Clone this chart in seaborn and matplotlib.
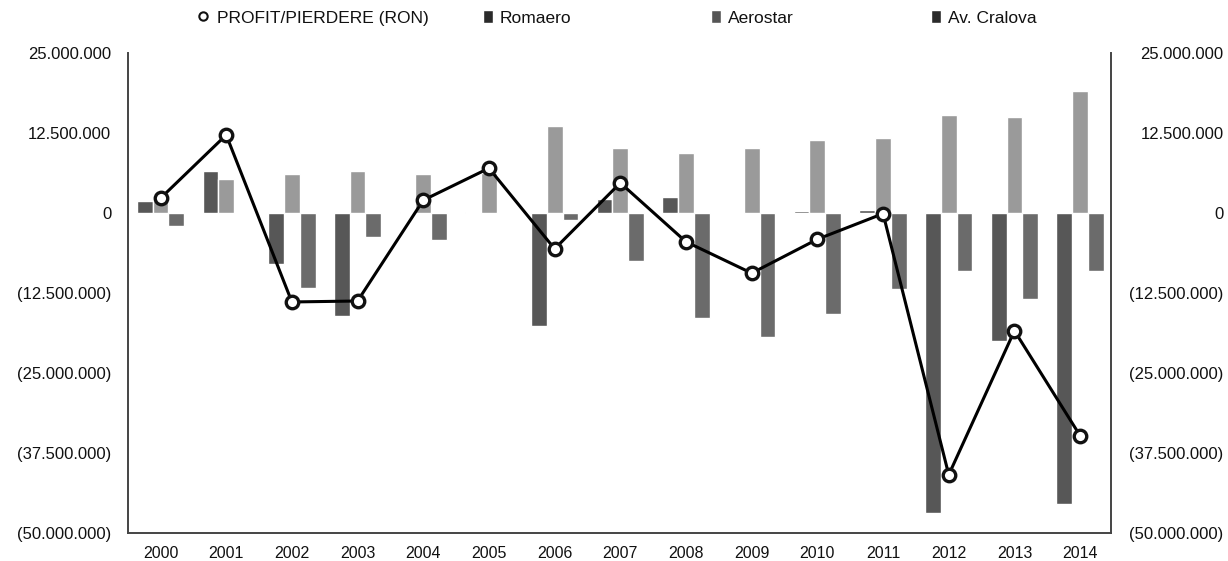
import matplotlib
matplotlib.use("Agg")
import matplotlib.pyplot as plt
import seaborn as sns
import pandas as pd
from matplotlib.lines import Line2D
from matplotlib.patches import Patch
from matplotlib.ticker import FuncFormatter, FixedLocator

# ---- data (RON) ----
years = [str(y) for y in range(2000, 2015)]
companies = ["Romaero", "Aerostar", "Av. Cralova"]
romaero = [1.9e6, 6.5e6, -8.0e6, -16.1e6, 0.15e6, 0.15e6, -17.7e6, 2.2e6, 2.5e6, 0.0, 0.3e6, 0.5e6,
           -46.9e6, -20.0e6, -45.5e6]
aerostar = [2.5e6, 5.3e6, 6.1e6, 6.5e6, 6.1e6, 6.3e6, 13.6e6, 10.2e6, 9.4e6, 10.2e6, 11.4e6, 11.7e6,
            15.3e6, 15.0e6, 19.1e6]
craiova = [-2.0e6, 0.0, -11.7e6, -3.75e6, -4.2e6, 0.0, -1.1e6, -7.5e6, -16.4e6, -19.4e6, -15.8e6,
           -11.9e6, -9.1e6, -13.4e6, -9.1e6]
profit = [2.3e6, 12.2e6, -13.9e6, -13.75e6, 2.0e6, 7.0e6, -5.6e6, 4.7e6, -4.5e6, -9.4e6, -4.1e6,
          -0.1e6, -40.9e6, -18.4e6, -34.8e6]
profit_label = "PROFIT/PIERDERE (RON)"
y_ticks = [25e6, 12.5e6, 0, -12.5e6, -25e6, -37.5e6, -50e6]

df = pd.DataFrame({
    "An": years * 3,
    "Companie": [companies[0]] * 15 + [companies[1]] * 15 + [companies[2]] * 15,
    "Valoare": romaero + aerostar + craiova,
})

sns.set_theme(style="white")
plt.rcParams["font.family"] = ["Liberation Sans", "DejaVu Sans"]

W, H = 1228, 561
fig = plt.figure(figsize=(W / 100, H / 100), dpi=100)
L, R, T, B = 128, 1111, 53, 533
ax = fig.add_axes([L / W, 1 - B / H, (R - L) / W, (B - T) / H])

palette = {"Romaero": "#575757", "Aerostar": "#9a9a9a", "Av. Cralova": "#6b6b6b"}
sns.barplot(data=df, x="An", y="Valoare", hue="Companie", order=years, hue_order=companies,
            palette=palette, width=0.72, saturation=1, legend=False, ax=ax, zorder=2)

sns.pointplot(x=years, y=profit, order=years, color="black", markers="o", errorbar=None,
              ax=ax, linewidth=2.2, markersize=9, markerfacecolor="white",
              markeredgecolor="#111111", markeredgewidth=2.4, zorder=5)
for ln in ax.lines:
    ln.set_markerfacecolor("white")
    ln.set_markeredgecolor("#111111")
    ln.set_zorder(5)

ax.set_ylim(-50e6, 25e6)
ax.set_xlim(-0.495, 14.47)
ax.set_xlabel("")
ax.set_ylabel("")


def fmt(v, pos=None):
    if abs(v) < 1:
        return "0"
    s = f"{abs(v):,.0f}".replace(",", ".")
    return s if v > 0 else f"({s})"


ax.yaxis.set_major_locator(FixedLocator(y_ticks))
ax.yaxis.set_major_formatter(FuncFormatter(fmt))
ax.tick_params(axis="y", length=0, pad=12, labelsize=12, colors="#111111")
ax.tick_params(axis="x", length=0, pad=9, labelsize=11.5, colors="#111111")

ax2 = ax.twinx()
ax2.set_ylim(ax.get_ylim())
ax2.yaxis.set_major_locator(FixedLocator(y_ticks))
ax2.yaxis.set_major_formatter(FuncFormatter(fmt))
ax2.tick_params(axis="y", length=0, pad=81, labelsize=12, colors="#111111")
for t in ax2.get_yticklabels():
    t.set_horizontalalignment("right")

for a in (ax, ax2):
    a.spines["top"].set_visible(False)
    for s in ("left", "right", "bottom"):
        a.spines[s].set_color("#444444")
        a.spines[s].set_linewidth(1.4)
ax2.spines["left"].set_visible(False)
ax2.spines["bottom"].set_visible(False)
ax.spines["right"].set_visible(False)

# ---- legend (top, spread) ----
fs = 12.5
fs_px = fs * 100 / 72
yl = 1 - 18 / H
entries = [
    (Line2D([], [], marker="o", linestyle="none", markerfacecolor="white", markeredgecolor="#111111",
            markeredgewidth=1.5, markersize=6), profit_label, 217, 0.8, 0.4),
    (Patch(facecolor="#2a2a2a"), "Romaero", 500, 0.6, 0.4),
    (Patch(facecolor="#555555"), "Aerostar", 728, 0.6, 0.4),
    (Patch(facecolor="#2a2a2a"), "Av. Cralova", 948, 0.6, 0.4),
]
for h, lab, tx, hl, hp in entries:
    left = tx - (hl + hp) * fs_px
    fig.legend([h], [lab], loc="center left", bbox_to_anchor=(left / W, yl), frameon=False,
               fontsize=fs, handlelength=hl, handletextpad=hp, handleheight=0.8,
               borderpad=0, borderaxespad=0, labelcolor="#111111")

fig.savefig("out.png", dpi=100)
